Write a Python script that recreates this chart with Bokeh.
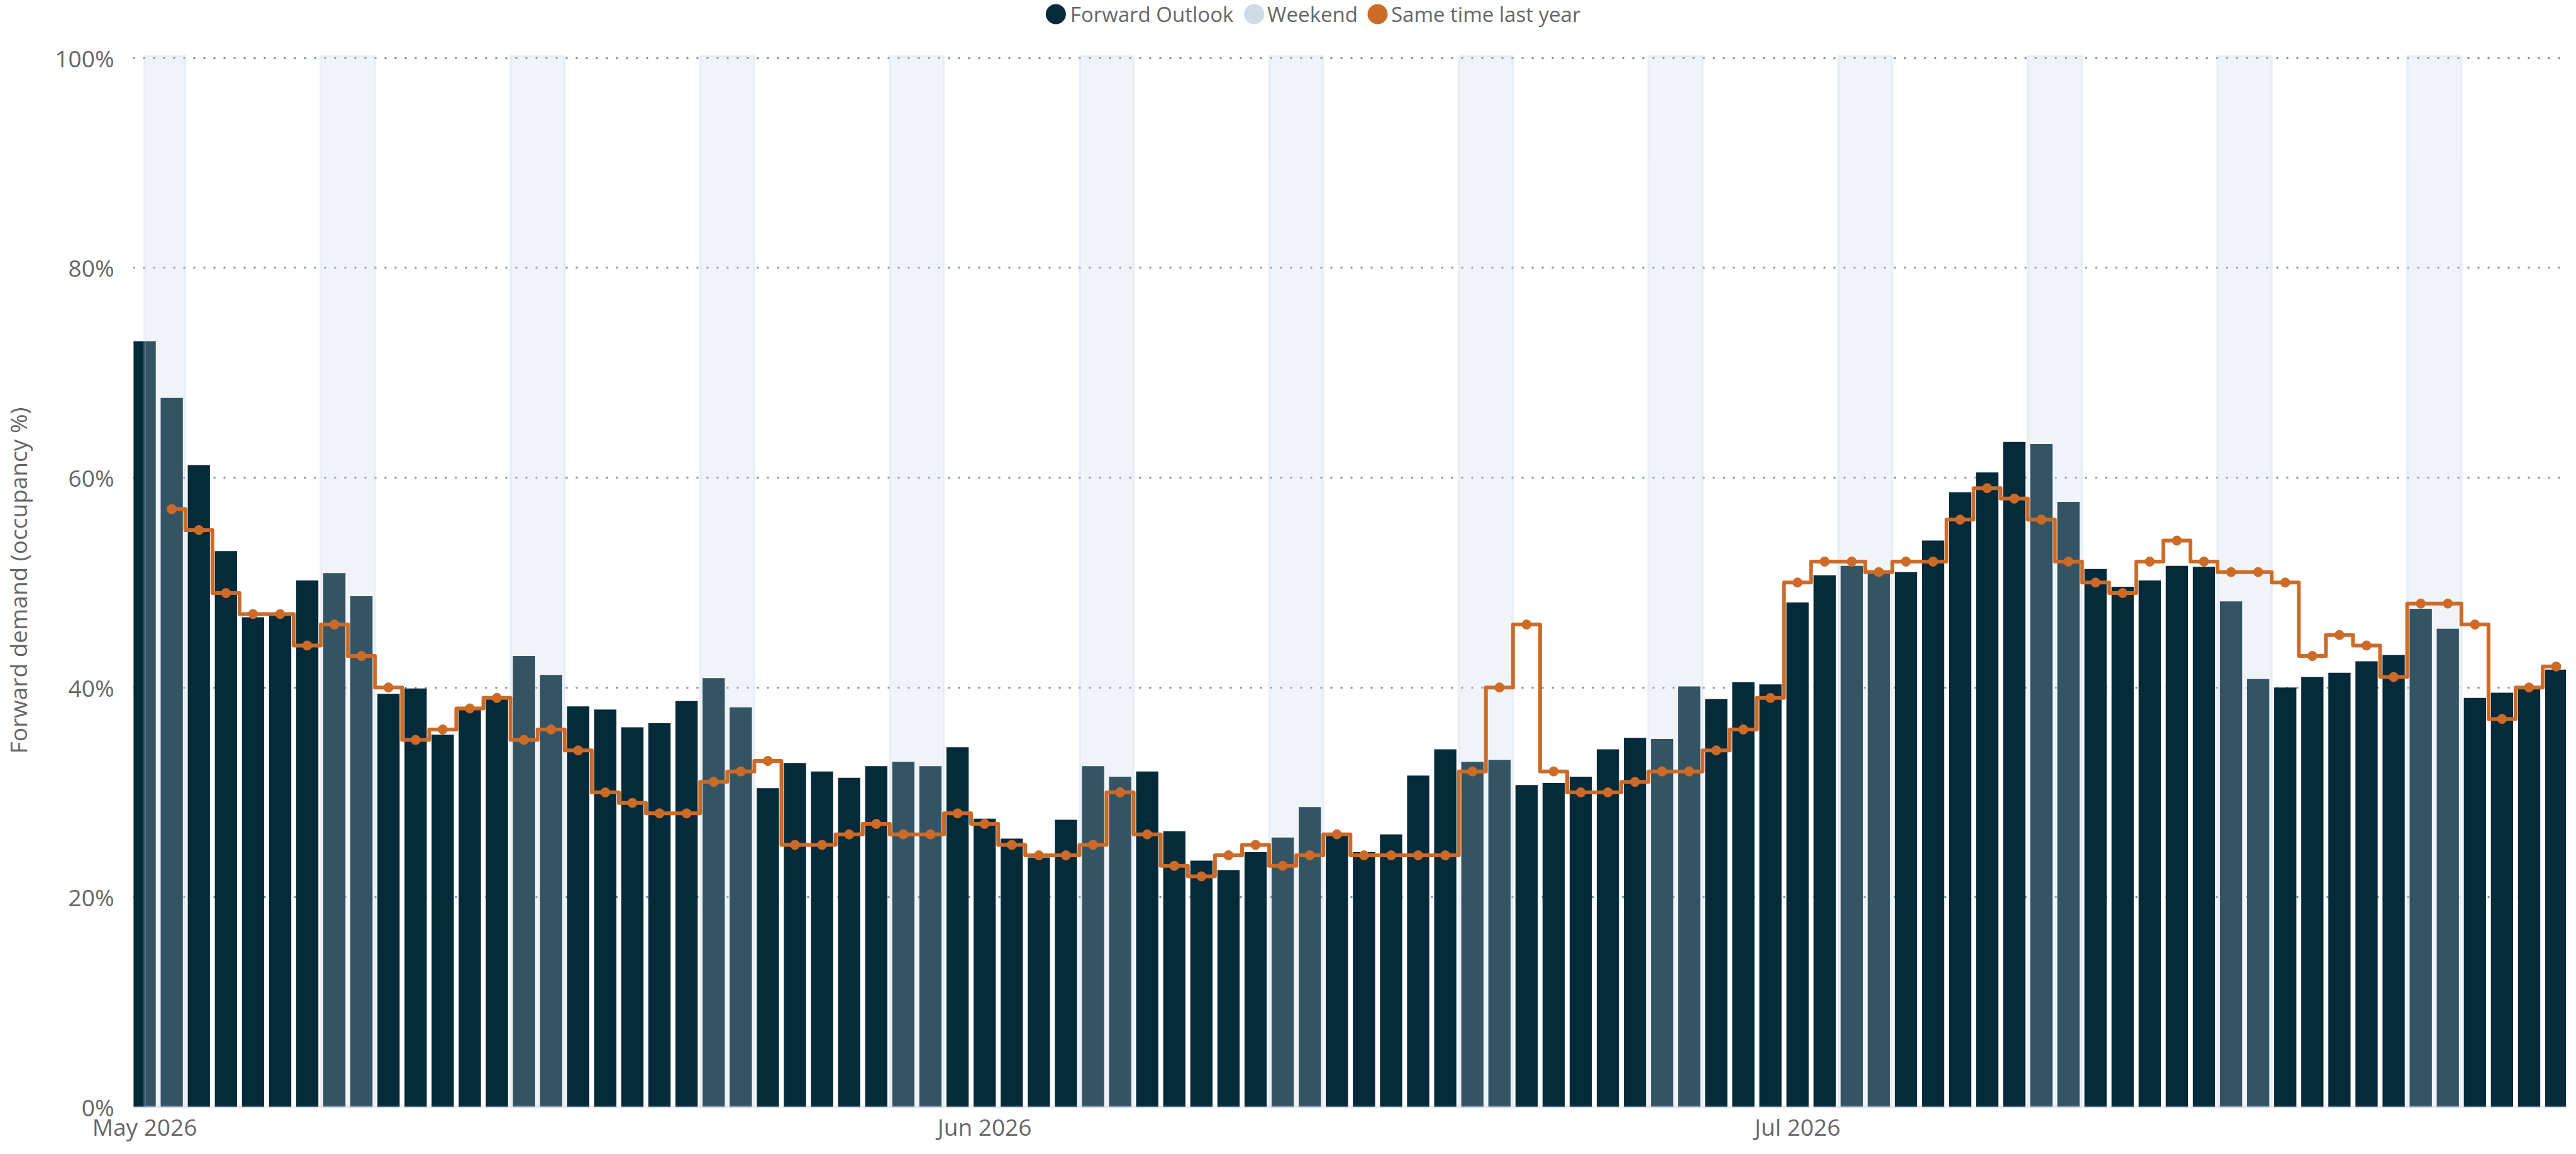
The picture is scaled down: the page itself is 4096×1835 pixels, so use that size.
import numpy as np
import pandas as pd
from bokeh.plotting import figure
from bokeh.models import (ColumnDataSource, Range1d, FixedTicker,
                          DatetimeTickFormatter, PrintfTickFormatter)
from bokeh.layouts import column
from bokeh.embed import file_html
from bokeh.resources import INLINE
from bokeh.core.properties import value

# ---------------- data ----------------
start_date = "2026-05-01"

forward_outlook = [
    73.0, 67.6, 61.2, 53.0, 46.7, 46.9, 50.2, 50.9, 48.7, 39.4,
    39.9, 35.5, 37.9, 38.9, 43.0, 41.2, 38.2, 37.9, 36.2, 36.6,
    38.7, 40.9, 38.1, 30.4, 32.8, 32.0, 31.4, 32.5, 32.9, 32.5,
    34.3, 27.5, 25.6, 23.8, 27.4, 32.5, 31.5, 32.0, 26.3, 23.5,
    22.6, 24.3, 25.7, 28.6, 26.0, 24.3, 26.0, 31.6, 34.1, 32.9,
    33.1, 30.7, 30.9, 31.5, 34.1, 35.2, 35.1, 40.1, 38.9, 40.5,
    40.3, 48.1, 50.7, 51.6, 51.0, 51.0, 54.0, 58.6, 60.5, 63.4,
    63.2, 57.7, 51.3, 49.6, 50.2, 51.6, 51.5, 48.2, 40.8, 40.0,
    41.0, 41.4, 42.5, 43.1, 47.5, 45.6, 39.0, 39.5, 39.9, 41.7,
]

same_time_last_year = [
    None,
    57, 55, 49, 47, 47, 44, 46, 43, 40,
    35, 36, 38, 39, 35, 36, 34, 30, 29, 28,
    28, 31, 32, 33, 25, 25, 26, 27, 26, 26,
    28, 27, 25, 24, 24, 25, 30, 26, 23, 22,
    24, 25, 23, 24, 26, 24, 24, 24, 24, 32,
    40, 46, 32, 30, 30, 31, 32, 32, 34, 36,
    39, 50, 52, 52, 51, 52, 52, 56, 59, 58,
    56, 52, 50, 49, 52, 54, 52, 51, 51, 50,
    43, 45, 44, 41, 48, 48, 46, 37, 40, 42,
]

weekend_weekdays = [4, 5]          # Friday and Saturday nights
y_ticks = [0, 20, 40, 60, 80, 100]
legend_labels = ["Forward Outlook", "Weekend", "Same time last year"]
y_title = "Forward demand (occupancy %)"

# ---------------- styles ----------------
DARK = "#052a3a"
BAND = "#c5d3e3"
BAND_LEGEND = "#cfdce8"
ORANGE = "#cc6b28"
TEXT = "#666666"
GRID = "#7893a3"
FONT = "Open Sans"
DAY = 86400000.0
W = 4080
LEFT = 208
LEG_H = 44

dates = pd.date_range(start_date, periods=len(forward_outlook), freq="D")
x_ms = dates.values.astype("datetime64[ms]").astype("int64").astype(float)

bars = ColumnDataSource(dict(x=x_ms, top=forward_outlook))

ly_x = [x for x, v in zip(x_ms, same_time_last_year) if v is not None]
ly_y = [v for v in same_time_last_year if v is not None]
line_src = ColumnDataSource(dict(x=ly_x, y=ly_y))

# weekend bands (Fri+Sat), clipped to the first date
lefts, rights = [], []
for i, d in enumerate(dates):
    if d.weekday() == weekend_weekdays[0]:
        last = i + 1 if i + 1 < len(dates) else i
        lefts.append(max(x_ms[i] - 0.5 * DAY, x_ms[0]))
        rights.append(x_ms[last] + 0.5 * DAY)
bands = ColumnDataSource(dict(left=lefts, right=rights,
                              bottom=[0] * len(lefts), top=[100.2] * len(lefts)))

month_ticks = [float(x) for x, d in zip(x_ms, dates) if d.day == 1]

# ---------------- main figure ----------------
p = figure(width=W, height=1819 - LEG_H, x_axis_type="datetime",
           x_range=Range1d(x_ms[0] - 0.43 * DAY, x_ms[-1] + 0.37 * DAY),
           y_range=Range1d(0, 100.4),
           toolbar_location=None, output_backend="svg",
           min_border_left=LEFT, min_border_right=0,
           min_border_top=41, min_border_bottom=58)
p.outline_line_color = None
p.background_fill_color = "white"
p.border_fill_color = "white"

p.vbar(x="x", top="top", width=0.82 * DAY, source=bars,
       fill_color=DARK, line_color=None)

p.quad(left="left", right="right", bottom="bottom", top="top", source=bands,
       fill_color=BAND, fill_alpha=0.25, line_color=BAND, line_alpha=0.25,
       line_width=4)

p.step(x="x", y="y", source=line_src, mode="center", line_color=ORANGE,
       line_width=6, line_join="round")
p.scatter(x="x", y="y", source=line_src, size=15, fill_color=ORANGE,
          line_color=ORANGE)

# grid
p.xgrid.visible = False
p.ygrid.ticker = FixedTicker(ticks=y_ticks)
p.ygrid.grid_line_color = GRID
p.ygrid.grid_line_width = 3
p.ygrid.grid_line_dash = "3 13"

# y axis
p.yaxis.ticker = FixedTicker(ticks=y_ticks)
p.yaxis.formatter = PrintfTickFormatter(format="%d%%")
p.yaxis.axis_line_color = None
p.yaxis.major_tick_line_color = None
p.yaxis.minor_tick_line_color = None
p.yaxis.major_tick_out = 0
p.yaxis.major_tick_in = 0
p.yaxis.minor_tick_out = 0
p.yaxis.major_label_standoff = 30
p.yaxis.major_label_text_font = FONT
p.yaxis.major_label_text_font_size = "37px"
p.yaxis.major_label_text_color = TEXT
p.yaxis.axis_label = y_title
p.yaxis.axis_label_text_font = FONT
p.yaxis.axis_label_text_font_size = "37px"
p.yaxis.axis_label_text_font_style = "normal"
p.yaxis.axis_label_text_color = TEXT
p.yaxis.axis_label_standoff = 30

# x axis
fmt = "%b %Y"
p.xaxis.ticker = FixedTicker(ticks=month_ticks)
p.xaxis.formatter = DatetimeTickFormatter(
    milliseconds=fmt, seconds=fmt, minsec=fmt, minutes=fmt, hourmin=fmt,
    hours=fmt, days=fmt, months=fmt, years=fmt)
p.xaxis.axis_line_color = BAND
p.xaxis.axis_line_alpha = 0.35
p.xaxis.axis_line_width = 4
p.xaxis.major_tick_line_color = None
p.xaxis.minor_tick_line_color = None
p.xaxis.major_tick_out = 0
p.xaxis.major_tick_in = 0
p.xaxis.minor_tick_out = 0
p.xaxis.major_label_standoff = 5
p.xaxis.major_label_text_font = FONT
p.xaxis.major_label_text_font_size = "37px"
p.xaxis.major_label_text_color = TEXT

# ---------------- legend strip ----------------
# frames of the column are aligned, so this strip's frame spans LEFT..W
lg = figure(width=W, height=LEG_H, x_range=Range1d(LEFT, W),
            y_range=Range1d(0, LEG_H),
            toolbar_location=None, output_backend="svg", min_border=0,
            min_border_left=LEFT, x_axis_location=None, y_axis_location=None)
lg.outline_line_color = None
lg.xgrid.visible = False
lg.ygrid.visible = False
lg.background_fill_color = "white"
lg.border_fill_color = "white"

leg_src = ColumnDataSource(dict(
    cx=[1676.5, 1992.0, 2188.5],
    tx=[1699.5, 2013.0, 2210.0],
    y=[22, 22, 22],
    color=[DARK, BAND_LEGEND, ORANGE],
    label=legend_labels,
))
lg.scatter(x="cx", y="y", source=leg_src, size=32, fill_color="color",
           line_color=None)
lg.text(x="tx", y="y", text="label", source=leg_src, text_align="left",
        text_baseline="middle", text_font=value(FONT),
        text_font_size="33px", text_color=TEXT)

layout = column(lg, p, spacing=0)
open("out.html", "w").write(file_html(layout, INLINE))
